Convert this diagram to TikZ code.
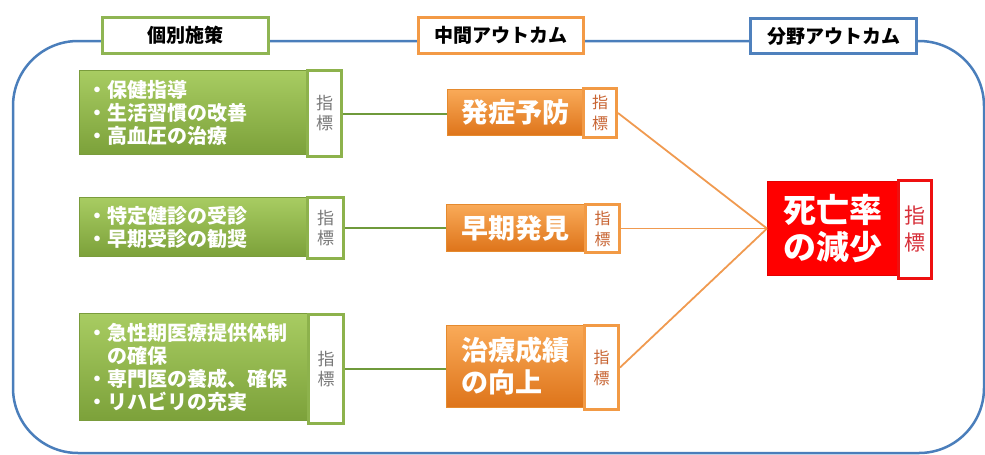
\documentclass[tikz,border=0pt]{standalone}
\usepackage{fontspec}
\setmainfont{Noto Sans CJK JP}
\definecolor{outerblue}{RGB}{74,126,187}
\definecolor{hgreen}{RGB}{143,181,83}
\definecolor{horange}{RGB}{243,154,70}
\definecolor{hblue}{RGB}{79,129,189}
\definecolor{gtop}{RGB}{168,204,98}
\definecolor{gbot}{RGB}{124,161,58}
\definecolor{gborder}{RGB}{122,156,60}
\definecolor{gind}{RGB}{141,178,76}
\definecolor{gtext}{RGB}{120,120,120}
\definecolor{gline}{RGB}{111,154,59}
\definecolor{otop}{RGB}{249,170,88}
\definecolor{obot}{RGB}{222,116,26}
\definecolor{oborder}{RGB}{229,138,46}
\definecolor{oind}{RGB}{242,154,69}
\definecolor{otext}{RGB}{200,100,50}
\definecolor{oline}{RGB}{240,154,80}
\definecolor{rfill}{RGB}{255,0,0}
\definecolor{rborder}{RGB}{228,0,0}
\definecolor{rind}{RGB}{238,16,16}
\definecolor{rtext}{RGB}{215,48,58}
\tikzset{
  base/.style={rectangle, inner sep=0pt, anchor=north west},
  hdr/.style={base, fill=white, line width=3pt, text=black,
    font=\bfseries\fontsize{19}{22}\selectfont},
  gbox/.style={base, top color=gtop, bottom color=gbot, draw=gborder, line width=1pt,
    text=white, font=\bfseries\fontsize{20}{23}\selectfont, align=left,
    inner xsep=8pt, inner ysep=0pt},
  gindbox/.style={base, fill=white, draw=gind, line width=3pt, text=gtext,
    font=\fontsize{17}{20}\selectfont, align=center},
  obox/.style={base, top color=otop, bottom color=obot, draw=oborder, line width=1pt,
    text=white, font=\bfseries\fontsize{27}{32}\selectfont, align=left},
  oindbox/.style={base, fill=white, draw=oind, line width=3pt, text=otext,
    font=\fontsize{16}{21}\selectfont, align=center},
  rbox/.style={base, fill=rfill, draw=rborder, line width=1pt,
    text=white, font=\bfseries\fontsize{33}{37}\selectfont, align=center},
  rindbox/.style={base, fill=white, draw=rind, line width=3pt, text=rtext,
    font=\fontsize{21}{27}\selectfont, align=center},
  gconn/.style={draw=gline, line width=2pt},
  oconn/.style={draw=oline, line width=1.8pt},
}
\begin{document}
\begin{tikzpicture}[x=1pt,y=-1pt]
\useasboundingbox (0,0) rectangle (985,455);
% outer frame
\draw[outerblue, line width=2.5pt, rounded corners=65pt] (13,41) rectangle (984,453);
% headers
\node[hdr, draw=hgreen, minimum width=166pt, minimum height=36pt] (h1) at (101,16) {個別施策};
\node[hdr, draw=horange, minimum width=165pt, minimum height=36pt] (h2) at (417,16) {中間アウトカム};
\node[hdr, draw=hblue, minimum width=166pt, minimum height=35pt] (h3) at (749,17) {分野アウトカム};
% green boxes
\node[gbox, text width=211pt, minimum height=84pt] (g1) at (79,70)
  {・保健指導\\・生活習慣の改善\\・高血圧の治療};
\node[gindbox, minimum width=34pt, minimum height=86pt] (gi1) at (306,69) {指\\標};
\node[gbox, text width=211pt, minimum height=59pt] (g2) at (79,197)
  {・特定健診の受診\\・早期受診の勧奨};
\node[gindbox, minimum width=36pt, minimum height=61pt] (gi2) at (306,196) {指\\標};
\node[gbox, text width=212pt, minimum height=107pt] (g3) at (79,313)
  {・急性期医療提供体制\\\hspace*{1em}の確保\\・専門医の養成、確保\\・リハビリの充実};
\node[gindbox, minimum width=35pt, minimum height=109pt] (gi3) at (307,313) {指\\標};
% orange boxes
\node[obox, minimum width=135pt, minimum height=46pt] (o1) at (447,89) {発症予防};
\node[oindbox, minimum width=33pt, minimum height=49pt] (oi1) at (582,87) {指\\標};
\node[obox, minimum width=138pt, minimum height=47pt] (o2) at (446,204) {早期発見};
\node[oindbox, minimum width=34pt, minimum height=48pt] (oi2) at (584,203) {指\\標};
\node[obox, minimum width=137pt, minimum height=82pt] (o3) at (446,325) {治療成績\\の向上};
\node[oindbox, minimum width=34pt, minimum height=84pt] (oi3) at (583,324) {指\\標};
% red box
\node[rbox, minimum width=130pt, minimum height=94pt] (r) at (767,181) {死亡率\\の減少};
\node[rindbox, minimum width=33pt, minimum height=98pt] (ri) at (897,179) {指\\標};
% connectors
\draw[gconn] (gi1.east) -- (gi1.east -| o1.west);
\draw[gconn] (gi2.east) -- (gi2.east -| o2.west);
\draw[gconn] (gi3.east) -- (gi3.east -| o3.west);
\draw[oconn] (oi1.east) -- (r.west);
\draw[oconn] (oi2.east) -- (r.west);
\draw[oconn] (oi3.east) -- (r.west);
\end{tikzpicture}
\end{document}
